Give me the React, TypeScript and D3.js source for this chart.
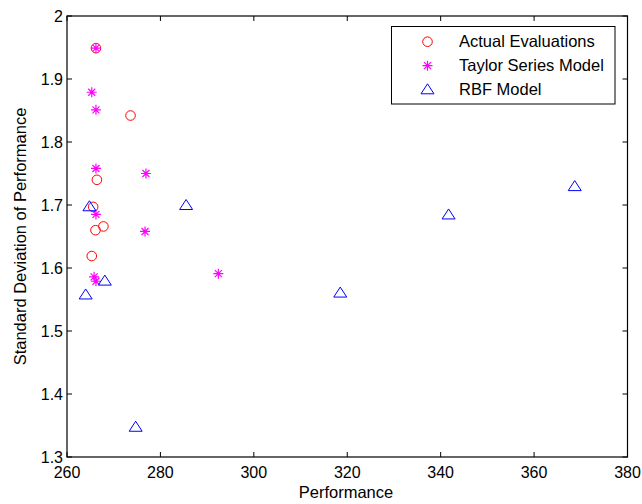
import React, { useEffect, useRef } from 'react';
import * as d3 from 'd3';

// values
const actualX = [266.2, 273.6, 266.4, 265.6, 266.1, 267.8, 265.3];
const actualY = [1.949, 1.842, 1.740, 1.697, 1.660, 1.666, 1.619];

const taylorX = [266.2, 265.3, 266.2, 266.2, 276.9, 266.2, 276.7, 265.8, 266.2, 292.4];
const taylorY = [1.949, 1.879, 1.851, 1.758, 1.750, 1.685, 1.658, 1.586, 1.579, 1.591];

const rbfX = [264.8, 268.1, 264.0, 285.5, 274.7, 318.5, 341.7, 368.7];
const rbfY = [1.698, 1.580, 1.558, 1.700, 1.348, 1.561, 1.685, 1.730];

const xTicks = [260, 280, 300, 320, 340, 360, 380];
const yTicks = [1.3, 1.4, 1.5, 1.6, 1.7, 1.8, 1.9, 2];
const legendLabels = ['Actual Evaluations', 'Taylor Series Model', 'RBF Model'];

const w = 642;
const h = 504;
const font = 'Arial, "Liberation Sans", Helvetica, sans-serif';

export default function App() {
  const ref = useRef<SVGSVGElement>(null);

  useEffect(() => {
    const svg = d3.select(ref.current);
    svg.selectAll('*').remove();

    const x = d3.scaleLinear().domain([260, 380]).range([67, 627.5]);
    const y = d3.scaleLinear().domain([1.3, 2]).range([457, 16]);

    svg.append('rect')
      .attr('x', 67).attr('y', 16)
      .attr('width', 627.5 - 67).attr('height', 457 - 16)
      .attr('fill', 'white').attr('stroke', 'black').attr('stroke-width', 1.2);

    const tick = 5;
    // x ticks (bottom + top, inward)
    xTicks.forEach(t => {
      const px = x(t);
      svg.append('line').attr('x1', px).attr('x2', px).attr('y1', 457).attr('y2', 457 - tick).attr('stroke', 'black');
      svg.append('line').attr('x1', px).attr('x2', px).attr('y1', 16).attr('y2', 16 + tick).attr('stroke', 'black');
      svg.append('text')
        .attr('x', px).attr('y', 478)
        .attr('text-anchor', 'middle')
        .attr('font-family', font).attr('font-size', 16)
        .text(t);
    });

    yTicks.forEach(t => {
      const py = y(t);
      svg.append('line').attr('x1', 67).attr('x2', 67 + tick).attr('y1', py).attr('y2', py).attr('stroke', 'black');
      svg.append('line').attr('x1', 627.5).attr('x2', 627.5 - tick).attr('y1', py).attr('y2', py).attr('stroke', 'black');
      svg.append('text')
        .attr('x', 63).attr('y', py + 6)
        .attr('text-anchor', 'end')
        .attr('font-family', font).attr('font-size', 16)
        .text(t === 2 ? '2' : t.toFixed(1));
    });

    svg.append('text')
      .attr('x', 346).attr('y', 498)
      .attr('text-anchor', 'middle')
      .attr('font-family', font).attr('font-size', 16.5)
      .text('Performance');

    svg.append('text')
      .attr('transform', `translate(26, ${(16 + 457) / 2}) rotate(-90)`)
      .attr('text-anchor', 'middle')
      .attr('font-family', font).attr('font-size', 16.5)
      .text('Standard Deviation of Performance');

    const circle = (g: any, cx: number, cy: number) =>
      g.append('circle').attr('cx', cx).attr('cy', cy).attr('r', 4.8)
        .attr('fill', 'none').attr('stroke', '#ff0000').attr('stroke-width', 1);

    const star = (g: any, cx: number, cy: number) => {
      const s = 5;
      const d = 3.5;
      g.append('path')
        .attr('d', `M${cx - s},${cy}H${cx + s}M${cx},${cy - s}V${cy + s}M${cx - d},${cy - d}L${cx + d},${cy + d}M${cx - d},${cy + d}L${cx + d},${cy - d}`)
        .attr('stroke', '#ff00ff').attr('stroke-width', 1.2).attr('fill', 'none');
    };

    const tri = (g: any, cx: number, cy: number) =>
      g.append('path')
        .attr('d', `M${cx},${cy - 5.5}L${cx + 6.5},${cy + 4.5}L${cx - 6.5},${cy + 4.5}Z`)
        .attr('fill', 'none').attr('stroke', '#0000ff').attr('stroke-width', 1);

    const pts = svg.append('g');
    actualX.forEach((v, i) => circle(pts, x(v), y(actualY[i])));
    taylorX.forEach((v, i) => star(pts, x(v), y(taylorY[i])));
    rbfX.forEach((v, i) => tri(pts, x(v), y(rbfY[i])));

    // legend
    const lg = svg.append('g');
    lg.append('rect')
      .attr('x', 391.5).attr('y', 26.5).attr('width', 223.5).attr('height', 77.5)
      .attr('fill', 'white').attr('stroke', 'black').attr('stroke-width', 1);
    const rows = [41.7, 65.7, 89.3];
    const markers = [circle, star, tri];
    legendLabels.forEach((lab, i) => {
      markers[i](lg, 427.5, rows[i]);
      lg.append('text')
        .attr('x', 459).attr('y', rows[i] + 5.5)
        .attr('font-family', font).attr('font-size', 16.5)
        .text(lab);
    });
  }, []);

  return (
    <svg ref={ref} width={w} height={h}
      style={{ position: 'absolute', left: 0, top: 0, background: 'white' }} />
  );
}
